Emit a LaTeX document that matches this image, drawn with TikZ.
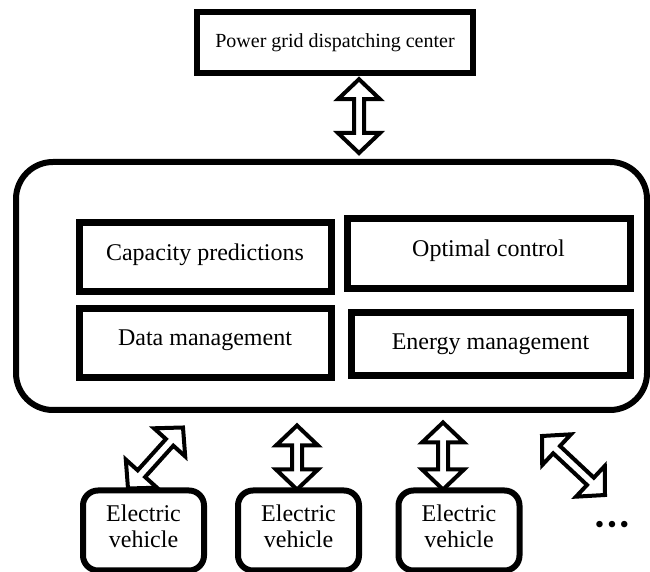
\documentclass[tikz,border=0pt]{standalone}
\usepackage{fontspec}
\setmainfont{Liberation Serif}
\usetikzlibrary{calc}
\tikzset{
  hollow/.style={draw=black, fill=white, line width=4pt, line join=miter},
  topbox/.style={draw, line width=6.5pt, minimum width=276pt, minimum height=61pt, font=\fontsize{20}{22}\selectfont},
  bigbox/.style={draw, line width=6pt, rounded corners=37pt, minimum width=631pt, minimum height=248pt},
  inbox/.style={draw, line width=7pt, minimum height=69pt},
  lift/.style={text depth=11pt},
  evbox/.style={draw, line width=6pt, rounded corners=15pt, minimum width=121pt, minimum height=80pt, align=center, text height=34pt},
}
\newcommand\hollowarrow[2]{%
  \coordinate (hA) at #1;
  \coordinate (hB) at #2;
  \coordinate (h1) at ($(hA)!20pt!(hB)$);
  \coordinate (h2) at ($(hB)!20pt!(hA)$);
  \draw[hollow] (hA) -- ($(h1)!21pt!90:(hB)$) -- ($(h1)!5pt!90:(hB)$)
    -- ($(h2)!5pt!-90:(hA)$) -- ($(h2)!21pt!-90:(hA)$) -- (hB)
    -- ($(h2)!21pt!90:(hA)$) -- ($(h2)!5pt!90:(hA)$)
    -- ($(h1)!5pt!-90:(hB)$) -- ($(h1)!21pt!-90:(hB)$) -- cycle;
}
\begin{document}
\begin{tikzpicture}[x=1pt, y=1pt, font=\fontsize{24}{26}\selectfont]
\useasboundingbox[fill=white] (0,0) rectangle (650,572);
\node[topbox] (top) at (335,529.5) {Power grid dispatching center};
\node[bigbox] (big) at (331.5,286) {};
\node[inbox, lift, minimum width=252pt] (cap) at (205,314.5) {Capacity predictions};
\node[inbox, lift, minimum width=283pt, minimum height=70pt] (opt) at (488.5,318) {Optimal control};
\node[inbox, lift, minimum width=252pt] (data) at (205,228.5) {Data management};
\node[inbox, minimum width=279pt, minimum height=63pt] (energy) at (490.5,227.5) {Energy management};
\node[evbox] (ev1) at (143.5,41.5) {Electric\\vehicle};
\node[evbox] (ev2) at (298.5,41.5) {Electric\\vehicle};
\node[evbox] (ev3) at (459,41.5) {Electric\\vehicle};
\node (dots) at (612,45) {\fontsize{27}{28}\selectfont •\hspace{3pt}•\hspace{3pt}•};
\coordinate (d4a) at (542,136);
\coordinate (d4b) at (605,77);
\hollowarrow{($(top.south)+(24,-3)$)}{($(top.south |- big.north)+(24,6)$)}
\hollowarrow{($(ev1.north)+(-15.5,-1)$)}{($(ev1.north)+(39.5,60)$)}
\hollowarrow{($(ev2.north)+(-1.5,-2)$)}{($(ev2.north)+(-1.5,62)$)}
\hollowarrow{($(ev3.north)+(-16,-2)$)}{($(ev3.north)+(-16,65)$)}
\hollowarrow{(d4a)}{(d4b)}
\end{tikzpicture}
\end{document}
